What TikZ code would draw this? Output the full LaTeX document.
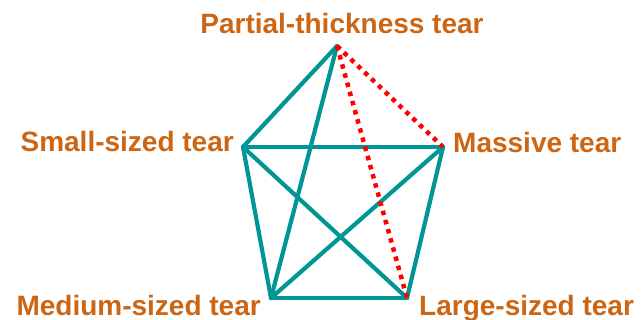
\documentclass[tikz,border=0pt]{standalone}
\usepackage{fontspec}
\setmainfont{Liberation Sans}
\definecolor{lbl}{RGB}{204,102,20}
\definecolor{tealc}{RGB}{0,150,150}
\definecolor{redc}{RGB}{255,0,0}
\tikzset{
  lab/.style={inner sep=0pt, font=\fontsize{28}{30}\selectfont\bfseries, text=lbl},
  solidedge/.style={draw=tealc, line width=4.2pt, line cap=round, line join=round},
  dotedge/.style={draw=redc, line width=4.5pt, dash pattern=on 4.5pt off 5pt}
}
\begin{document}
\begin{tikzpicture}[x=1pt,y=-1pt]
\useasboundingbox (0,0) rectangle (644,320);
\coordinate (P) at (337,46);
\coordinate (S) at (243,147);
\coordinate (M) at (443,147);
\coordinate (D) at (271,298);
\coordinate (L) at (407,298);
\node[lab, anchor=base] (tP) at (342,34) {Partial-thickness tear};
\node[lab, anchor=base east] (tS) at (234,152) {Small-sized tear};
\node[lab, anchor=base west] (tM) at (453,153) {Massive tear};
\node[lab, anchor=base east] (tD) at (261,315) {Medium-sized tear};
\node[lab, anchor=base west] (tL) at (419,315) {Large-sized tear};
\draw[solidedge] (P) -- (S);
\draw[solidedge] (P) -- (D);
\draw[solidedge] (S) -- (M);
\draw[solidedge] (S) -- (D);
\draw[solidedge] (S) -- (L);
\draw[solidedge] (M) -- (L);
\draw[solidedge] (M) -- (D);
\draw[solidedge] (D) -- (L);
\draw[dotedge] (P) -- (M);
\draw[dotedge] (P) -- (L);
\end{tikzpicture}
\end{document}
